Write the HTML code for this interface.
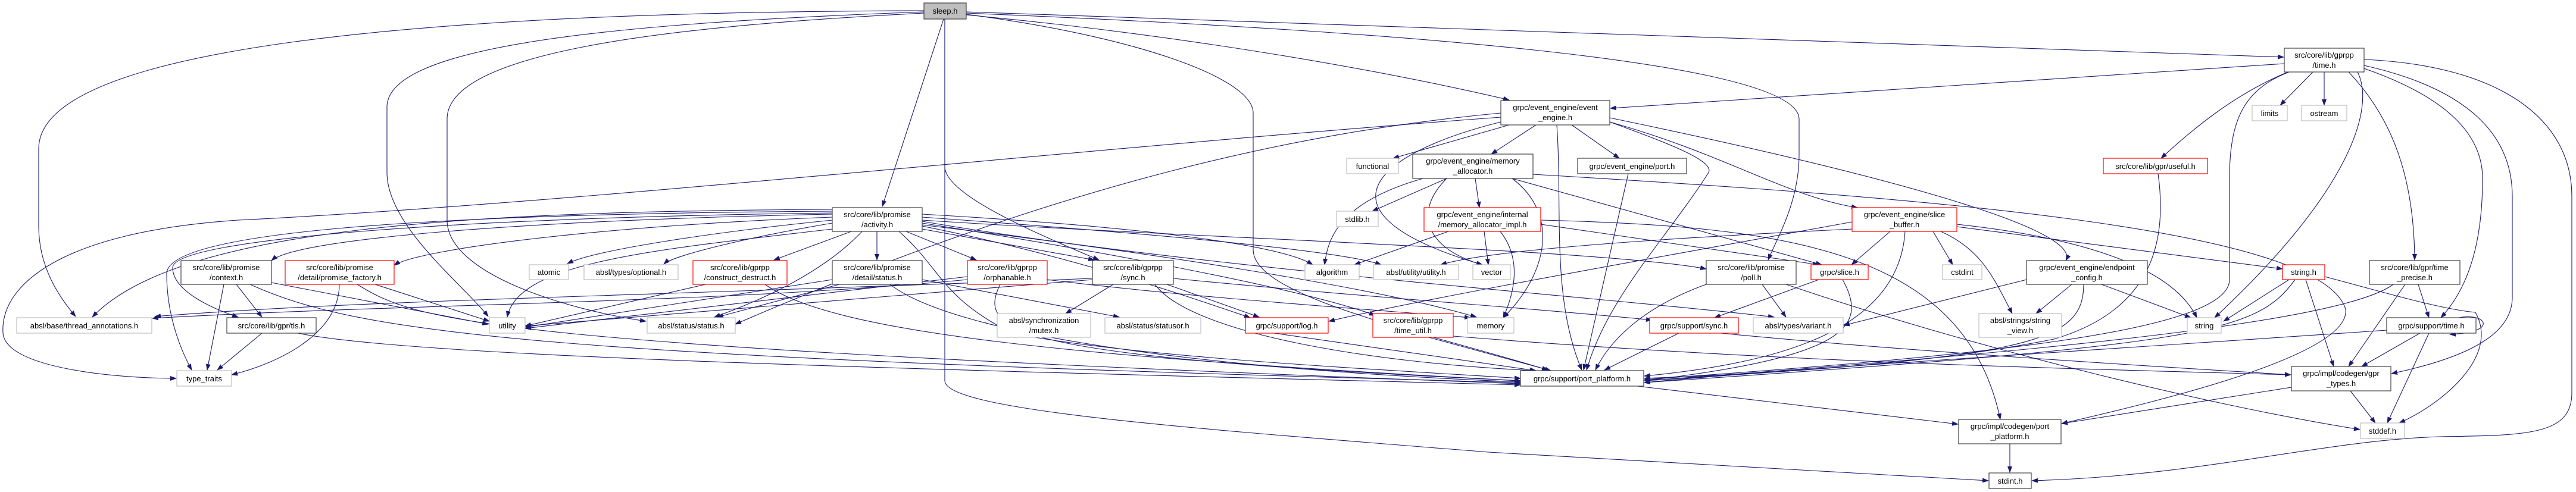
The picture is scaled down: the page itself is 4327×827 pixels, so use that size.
<!DOCTYPE html>
<html><head><meta charset="utf-8"><style>
html,body{margin:0;padding:0;background:#fff;}
svg{display:block;}
text{font-family:"Liberation Sans",sans-serif;font-size:13px;fill:#000;text-anchor:middle;}
.e{fill:none;stroke:#191970;stroke-width:1.1;marker-end:url(#a);}
.k{fill:#fff;stroke:#404040;stroke-width:1.2;}
.r{fill:#fff;stroke:#ff0000;stroke-width:1.2;}
.g{fill:#fff;stroke:#bfbfbf;stroke-width:1.2;}
</style></head><body>
<svg width="4327" height="827" viewBox="0 0 4327 827" xmlns="http://www.w3.org/2000/svg">
<defs><marker id="a" markerWidth="11" markerHeight="8" refX="10" refY="4" orient="auto" markerUnits="userSpaceOnUse"><path d="M0,0L11,4L0,8z" fill="#191970"/></marker></defs>
<g>
<!-- sleep edges -->
<path class="e" d="M1552,18 C700,20 65,80 65,250 L65,380 C65,450 100,500 127,532"/>
<path class="e" d="M1552,20 C1000,40 650,80 650,180 L650,290 C650,380 780,480 820,532"/>
<path class="e" d="M1552,22 C1100,45 751,90 751,200 L751,370 C751,460 950,520 1085,540"/>
<path class="e" d="M1585,32 L1482,347"/>
<path class="e" d="M1587,32 L1587,280 C1587,330 1760,400 1846,437"/>
<path class="e" d="M1587,32 L1587,640 C1587,690 2000,720 2500,760 L3340,808"/>
<path class="e" d="M1623,25 C2000,60 2330,120 2535,168"/>
<path class="e" d="M1623,22 C2300,50 3022,100 3022,200 L3022,260 C3022,340 2985,400 2970,437"/>
<path class="e" d="M1623,20 L3836,96"/>
<path class="e" d="M1623,24 C1900,60 2105,130 2105,190 L2105,420 C2105,500 2400,560 2600,622"/>
<!-- activity edges -->
<path class="e" d="M1398,360 C900,370 500,400 456,438"/>
<path class="e" d="M1398,365 C1000,380 700,420 662,446"/>
<path class="e" d="M1398,352 C800,355 300,380 155,533"/>
<path class="e" d="M1398,355 C700,360 280,390 280,460 C280,540 310,600 322,622"/>
<path class="e" d="M1398,358 C800,365 290,400 290,450 C290,490 360,520 400,533"/>
<path class="e" d="M1398,370 C1200,390 1000,420 953,443"/>
<path class="e" d="M1398,375 C1250,400 1130,430 1115,444"/>
<path class="e" d="M1430,389 L1300,437"/>
<path class="e" d="M1473,389 L1473,437"/>
<path class="e" d="M1522,389 L1640,437"/>
<path class="e" d="M1549,385 L1838,437"/>
<path class="e" d="M1448,389 C1400,440 1320,490 1200,533"/>
<path class="e" d="M1398,385 C1100,420 870,440 852,533"/>
<path class="e" d="M1549,360 C1900,380 2150,410 2205,445"/>
<path class="e" d="M1549,365 C1900,390 2250,420 2320,445"/>
<path class="e" d="M1549,370 C2000,400 2700,420 2866,452"/>
<path class="e" d="M1549,378 C1900,420 2300,480 2480,533"/>
<path class="e" d="M1549,375 C1900,430 2200,490 2310,530"/>
<path class="e" d="M1549,380 C1800,430 2000,500 2100,534"/>
<path class="e" d="M1510,389 C1580,450 1580,500 1700,560 C1900,600 2300,620 2554,636"/>
<path class="e" d="M1549,372 C2000,450 2700,500 2980,533"/>
<!-- context, factory, tls -->
<path class="e" d="M376,478 L348,622"/>
<path class="e" d="M397,478 L440,533"/>
<path class="e" d="M456,475 L820,545"/>
<path class="e" d="M420,478 C600,560 900,600 2554,643"/>
<path class="e" d="M570,478 C570,560 470,610 389,630"/>
<path class="e" d="M630,478 L822,540"/>
<path class="e" d="M600,478 C700,540 800,580 2554,645"/>
<path class="e" d="M440,560 L365,622"/>
<path class="e" d="M500,560 C700,600 1500,620 2554,647"/>
<!-- construct, dstatus, orphan, sync -->
<path class="e" d="M1185,478 L882,548"/>
<path class="e" d="M1285,478 C1400,560 1800,600 2554,640"/>
<path class="e" d="M1410,478 L1205,533"/>
<path class="e" d="M1398,470 L882,550"/>
<path class="e" d="M1495,478 C1600,560 2000,620 2554,642"/>
<path class="e" d="M1549,470 L1880,533"/>
<path class="e" d="M1625,470 C1200,510 700,510 256,535"/>
<path class="e" d="M1625,465 L882,552"/>
<path class="e" d="M1680,478 C1640,560 1700,600 2554,640"/>
<path class="e" d="M1759,470 C2000,500 2300,520 2470,534"/>
<path class="e" d="M1870,478 L1790,527"/>
<path class="e" d="M1960,478 L2115,533"/>
<path class="e" d="M1940,478 C2000,560 2300,610 2580,623"/>
<path class="e" d="M1971,468 C2300,500 2600,520 2775,538"/>
<path class="e" d="M1835,468 C1000,500 600,505 260,532"/>
<path class="e" d="M1835,470 L882,548"/>
<path class="e" d="M2140,560 L2580,623"/>
<!-- event engine -->
<path class="e" d="M2535,210 L2340,266"/>
<path class="e" d="M2580,210 L2505,259"/>
<path class="e" d="M2640,210 L2720,266"/>
<path class="e" d="M2615,210 C2625,350 2605,500 2657,622"/>
<path class="e" d="M2704,205 C2900,260 3000,330 3120,349"/>
<path class="e" d="M2704,198 C3100,280 3500,380 3470,438"/>
<path class="e" d="M2521,205 C2300,260 2200,360 2490,445"/>
<path class="e" d="M2521,197 C1800,250 1000,340 400,370 C100,390 0,480 5,560 C10,620 200,636 296,636"/>
<path class="e" d="M2704,205 C2800,240 2880,270 2870,290 C2800,400 2700,500 2665,622"/>
<path class="e" d="M2521,190 C2200,220 1800,300 1235,545"/>
<!-- memory allocator -->
<path class="e" d="M2430,300 L2305,355"/>
<path class="e" d="M2478,300 L2485,349"/>
<path class="e" d="M2390,300 C2250,340 2230,400 2225,445"/>
<path class="e" d="M2430,300 C2370,360 2400,420 2490,445"/>
<path class="e" d="M2540,300 C2620,360 2600,460 2525,534"/>
<path class="e" d="M2540,300 L3060,445"/>
<path class="e" d="M2575,293 C3200,330 3900,380 3940,520 C3950,600 3600,680 3463,712"/>
<path class="e" d="M2433,389 L2275,445"/>
<path class="e" d="M2493,389 L2500,445"/>
<path class="e" d="M2520,389 C2560,440 2540,500 2525,534"/>
<path class="e" d="M2588,377 L3055,445"/>
<path class="e" d="M2588,370 C3000,380 3300,420 3360,705"/>
<path class="e" d="M2735,292 L2660,622"/>
<!-- slice buffer -->
<path class="e" d="M3175,389 L3110,445"/>
<path class="e" d="M3200,389 C3190,550 3000,610 2762,632"/>
<path class="e" d="M3247,389 L3280,445"/>
<path class="e" d="M3260,389 C3330,420 3350,470 3380,527"/>
<path class="e" d="M3287,377 C3500,400 3650,450 3690,534"/>
<path class="e" d="M3287,381 L3834,452"/>
<path class="e" d="M3111,385 C2800,400 2500,420 2420,445"/>
<path class="e" d="M3111,373 C2800,430 2400,500 2232,540"/>
<!-- poll, slice -->
<path class="e" d="M2866,478 C2750,520 2700,580 2680,622"/>
<path class="e" d="M2960,478 L3000,533"/>
<path class="e" d="M3000,478 C3300,580 3700,680 3964,722"/>
<path class="e" d="M3055,470 L2880,534"/>
<path class="e" d="M3095,470 C3140,550 3100,600 2762,640"/>
<path class="e" d="M2400,567 L2605,623"/>
<path class="e" d="M2441,565 C3000,610 3500,620 3848,630"/>
<path class="e" d="M2820,560 L2695,622"/>
<path class="e" d="M2890,560 C3200,590 3600,615 3848,630"/>
<!-- endpoint, string.h -->
<path class="e" d="M3480,478 L3420,527"/>
<path class="e" d="M3530,478 L3680,534"/>
<path class="e" d="M3500,478 C3500,580 3400,600 2762,640"/>
<path class="e" d="M3404,470 L3097,547"/>
<path class="e" d="M3845,470 L3735,540"/>
<path class="e" d="M3873,470 L3920,616"/>
<path class="e" d="M3855,470 C3790,560 3700,580 2762,643"/>
<path class="e" d="M3905,465 C4000,490 4100,520 4158,525 C4200,600 4100,680 4030,711"/>
<!-- time.h -->
<path class="e" d="M3885,121 L3830,177"/>
<path class="e" d="M3904,121 L3904,177"/>
<path class="e" d="M3843,121 C3750,160 3680,220 3630,266"/>
<path class="e" d="M3960,121 C3990,180 3950,320 3720,534"/>
<path class="e" d="M3945,121 C4020,200 4055,300 4056,437"/>
<path class="e" d="M3971,115 C4100,160 4170,220 4170,300 C4170,400 4150,480 4100,534"/>
<path class="e" d="M3971,110 C4150,150 4220,230 4220,330 L4220,500 C4220,560 4150,600 4017,628"/>
<path class="e" d="M3971,100 C4200,110 4320,200 4320,330 L4320,660 C4320,730 4250,732 4100,734 C3900,740 3700,800 3413,808"/>
<path class="e" d="M3837,107 L2705,182"/>
<path class="e" d="M3845,121 C3770,150 3745,200 3745,300 L3745,470 C3745,560 3300,600 2762,638"/>
<path class="e" d="M3625,292 C3640,400 3620,520 3450,570 C3200,620 2900,630 2762,636"/>
<!-- precise, stime, types -->
<path class="e" d="M4062,478 L4080,534"/>
<path class="e" d="M4040,478 L3945,616"/>
<path class="e" d="M4020,478 C3950,530 3600,580 2762,640"/>
<path class="e" d="M4130,534 C4180,525 4195,560 4115,562"/>
<path class="e" d="M4065,560 L3967,616"/>
<path class="e" d="M4080,560 L4010,711"/>
<path class="e" d="M4009,555 C3500,590 3000,620 2762,643"/>
<path class="e" d="M3849,651 L3463,712"/>
<path class="e" d="M3948,657 L3990,711"/>
<path class="e" d="M2750,649 L3289,713"/>
<path class="e" d="M3376,746 L3376,794"/>
</g>
<g>
<rect x="1552" y="5" width="71" height="27" fill="#bfbfbf" stroke="#404040" stroke-width="1.2"/><text x="1587.5" y="23">sleep.h</text>
<rect class="k" x="1398" y="349" width="151" height="40"/><text x="1473.5" y="365">src/core/lib/promise</text><text x="1473.5" y="382">/activity.h</text>
<rect class="g" x="28" y="534" width="227" height="26"/><text x="141.5" y="552">absl/base/thread_annotations.h</text>
<rect class="k" x="304" y="438" width="152" height="40"/><text x="380" y="454">src/core/lib/promise</text><text x="380" y="471">/context.h</text>
<rect class="r" x="479" y="438" width="183" height="40"/><text x="570.5" y="454">src/core/lib/promise</text><text x="570.5" y="471">/detail/promise_factory.h</text>
<rect class="k" x="381" y="534" width="150" height="26"/><text x="456" y="552">src/core/lib/gpr/tls.h</text>
<rect class="g" x="297" y="623" width="92" height="26"/><text x="343" y="641">type_traits</text>
<rect class="g" x="822" y="534" width="60" height="26"/><text x="852" y="552">utility</text>
<rect class="g" x="889" y="445" width="66" height="25"/><text x="922" y="462">atomic</text>
<rect class="g" x="981" y="445" width="158" height="25"/><text x="1060" y="462">absl/types/optional.h</text>
<rect class="g" x="1087" y="534" width="148" height="26"/><text x="1161" y="552">absl/status/status.h</text>
<rect class="r" x="1164" y="438" width="158" height="40"/><text x="1243" y="454">src/core/lib/gprpp</text><text x="1243" y="471">/construct_destruct.h</text>
<rect class="k" x="1398" y="438" width="151" height="40"/><text x="1473.5" y="454">src/core/lib/promise</text><text x="1473.5" y="471">/detail/status.h</text>
<rect class="r" x="1625" y="438" width="134" height="40"/><text x="1692" y="454">src/core/lib/gprpp</text><text x="1692" y="471">/orphanable.h</text>
<rect class="k" x="1835" y="438" width="136" height="40"/><text x="1903" y="454">src/core/lib/gprpp</text><text x="1903" y="471">/sync.h</text>
<rect class="g" x="1675" y="527" width="157" height="40"/><text x="1753.5" y="543">absl/synchronization</text><text x="1753.5" y="560">/mutex.h</text>
<rect class="g" x="1856" y="534" width="161" height="26"/><text x="1936.5" y="552">absl/status/statusor.h</text>
<rect class="r" x="2092" y="534" width="139" height="26"/><text x="2161.5" y="552">grpc/support/log.h</text>
<rect class="k" x="2521" y="169" width="183" height="41"/><text x="2612.5" y="185">grpc/event_engine/event</text><text x="2612.5" y="202">_engine.h</text>
<rect class="g" x="2262" y="266" width="87" height="26"/><text x="2305.5" y="284">functional</text>
<rect class="k" x="2373" y="259" width="202" height="41"/><text x="2474" y="275">grpc/event_engine/memory</text><text x="2474" y="292">_allocator.h</text>
<rect class="k" x="2650" y="266" width="183" height="26"/><text x="2741.5" y="284">grpc/event_engine/port.h</text>
<rect class="g" x="2245" y="355" width="70" height="26"/><text x="2280" y="373">stdlib.h</text>
<rect class="r" x="2392" y="349" width="196" height="40"/><text x="2490" y="365">grpc/event_engine/internal</text><text x="2490" y="382">/memory_allocator_impl.h</text>
<rect class="r" x="3111" y="349" width="176" height="40"/><text x="3199" y="365">grpc/event_engine/slice</text><text x="3199" y="382">_buffer.h</text>
<rect class="g" x="2192" y="445" width="91" height="25"/><text x="2237.5" y="462">algorithm</text>
<rect class="g" x="2307" y="445" width="143" height="25"/><text x="2378.5" y="462">absl/utility/utility.h</text>
<rect class="g" x="2474" y="445" width="63" height="25"/><text x="2505.5" y="462">vector</text>
<rect class="k" x="2866" y="438" width="151" height="40"/><text x="2941.5" y="454">src/core/lib/promise</text><text x="2941.5" y="471">/poll.h</text>
<rect class="r" x="3042" y="445" width="96" height="25"/><text x="3090" y="462">grpc/slice.h</text>
<rect class="g" x="3263" y="445" width="66" height="25"/><text x="3296" y="462">cstdint</text>
<rect class="r" x="2306" y="527" width="135" height="40"/><text x="2373.5" y="543">src/core/lib/gprpp</text><text x="2373.5" y="560">/time_util.h</text>
<rect class="g" x="2465" y="534" width="78" height="26"/><text x="2504" y="552">memory</text>
<rect class="r" x="2771" y="534" width="149" height="26"/><text x="2845.5" y="552">grpc/support/sync.h</text>
<rect class="g" x="2945" y="534" width="151" height="26"/><text x="3020.5" y="552">absl/types/variant.h</text>
<rect class="k" x="2554" y="623" width="207" height="26"/><text x="2657.5" y="641">grpc/support/port_platform.h</text>
<rect class="k" x="3837" y="81" width="134" height="40"/><text x="3904" y="97">src/core/lib/gprpp</text><text x="3904" y="114">/time.h</text>
<rect class="g" x="3783" y="177" width="59" height="26"/><text x="3812.5" y="195">limits</text>
<rect class="g" x="3866" y="177" width="76" height="26"/><text x="3904" y="195">ostream</text>
<rect class="r" x="3533" y="266" width="175" height="26"/><text x="3620.5" y="284">src/core/lib/gpr/useful.h</text>
<rect class="k" x="3404" y="438" width="203" height="40"/><text x="3505.5" y="454">grpc/event_engine/endpoint</text><text x="3505.5" y="471">_config.h</text>
<rect class="r" x="3834" y="445" width="71" height="25"/><text x="3869.5" y="462">string.h</text>
<rect class="k" x="3980" y="438" width="152" height="40"/><text x="4056" y="454">src/core/lib/gpr/time</text><text x="4056" y="471">_precise.h</text>
<rect class="g" x="3324" y="527" width="139" height="40"/><text x="3393.5" y="543">absl/strings/string</text><text x="3393.5" y="560">_view.h</text>
<rect class="g" x="3674" y="534" width="57" height="26"/><text x="3702.5" y="552">string</text>
<rect class="k" x="4009" y="534" width="150" height="26"/><text x="4084" y="552">grpc/support/time.h</text>
<rect class="k" x="3849" y="616" width="167" height="41"/><text x="3932.5" y="632">grpc/impl/codegen/gpr</text><text x="3932.5" y="649">_types.h</text>
<rect class="k" x="3290" y="705" width="172" height="41"/><text x="3376" y="721">grpc/impl/codegen/port</text><text x="3376" y="738">_platform.h</text>
<rect class="g" x="3965" y="711" width="74" height="26"/><text x="4002" y="729">stddef.h</text>
<rect class="k" x="3341" y="795" width="71" height="26"/><text x="3376.5" y="813">stdint.h</text>
</g>
</svg>
</body></html>
